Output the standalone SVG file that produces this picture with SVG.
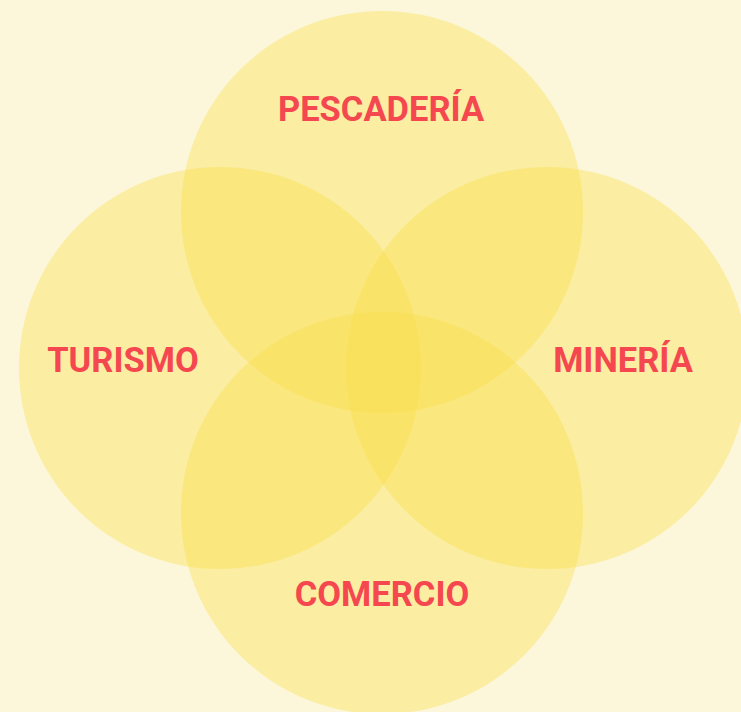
<svg xmlns="http://www.w3.org/2000/svg" width="741" height="712" viewBox="0 0 741 712">
<style>
.c{fill:#F9DF4A;fill-opacity:0.4}
.t{font-family:Roboto,"Liberation Sans",sans-serif;font-weight:700;font-size:34.5px;fill:#F5474F;text-anchor:middle}
</style>
<rect width="741" height="712" fill="#FCF7DB"/>
<g id="pescaderia"><circle class="c" cx="382" cy="212" r="201"/></g>
<g id="turismo"><circle class="c" cx="220" cy="368" r="201"/></g>
<g id="mineria"><circle class="c" cx="547" cy="368" r="201"/></g>
<g id="comercio"><circle class="c" cx="382" cy="513" r="201"/></g>
<g id="connectors"></g>
<g id="labels">
<text class="t" x="381" y="121">PESCADERÍA</text>
<text class="t" x="123" y="372">TURISMO</text>
<text class="t" x="623" y="372">MINERÍA</text>
<text class="t" x="382" y="606">COMERCIO</text>
</g>
</svg>
